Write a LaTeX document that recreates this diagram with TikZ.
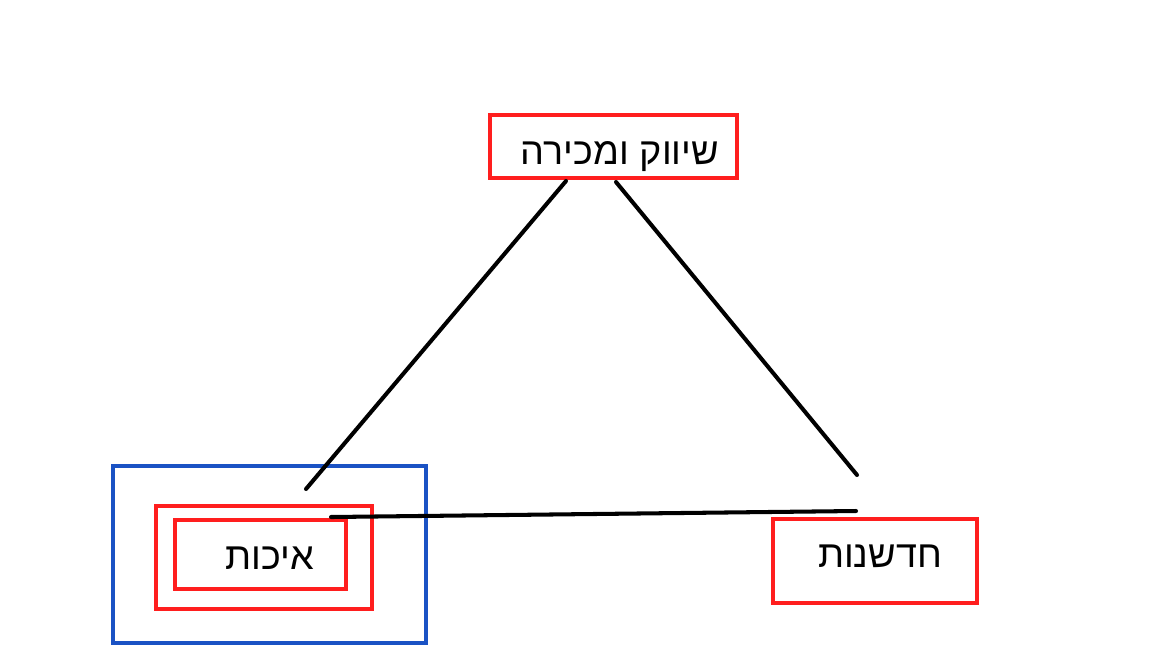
\documentclass[tikz,border=0pt]{standalone}
\usepackage{fontspec}
\newfontfamily\hebfont[Script=Hebrew]{Liberation Sans}
\TeXXeTstate=1
\begin{document}
\begin{tikzpicture}[x=0.02cm,y=-0.02cm,
		box/.style={draw=boxred,line width=2.1pt,inner sep=0pt},
		link/.style={draw=black,line width=2.3pt,line cap=round},
		heb/.style={font=\hebfont\fontsize{21.5}{26}\selectfont,anchor=base,inner sep=0pt}]
				\definecolor{boxred}{RGB}{255,30,30}
				\definecolor{boxblue}{RGB}{26,82,196}
				\useasboundingbox (0,0) rectangle (1168,657);
				% boxes
				\node[box,minimum width=4.94cm,minimum height=1.26cm] (sales) at (613.5,146.5) {};
				\node[box,minimum width=4.08cm,minimum height=1.68cm] (innov) at (875,561) {};
				\node[box,draw=boxblue,minimum width=6.26cm,minimum height=3.54cm] (group) at (269.5,554.5) {};
				\node[box,minimum width=4.32cm,minimum height=2.06cm] (qouter) at (264,557.5) {};
				\node[box,minimum width=3.42cm,minimum height=1.38cm] (qinner) at (260.5,554.5) {};
				% texts
				\node[heb] (salestext) at (620,164) {\beginR שיווק ומכירה\endR};
				\node[heb] (innovtext) at (880,567) {\beginR חדשנות\endR};
				\node[heb] (qualtext) at (270,569) {\beginR איכות\endR};
				% free ends
				\coordinate (s1) at (566,181);
				\coordinate (s2) at (616,182);
				\coordinate (q1) at (306,489);
				\coordinate (q2) at (331,517);
				\coordinate (i1) at (857,475);
				\coordinate (i2) at (856,511);
				\draw[link] (s1) -- (q1) (s2) -- (i1) (q2) -- (i2);
			\end{tikzpicture}
\end{document}
